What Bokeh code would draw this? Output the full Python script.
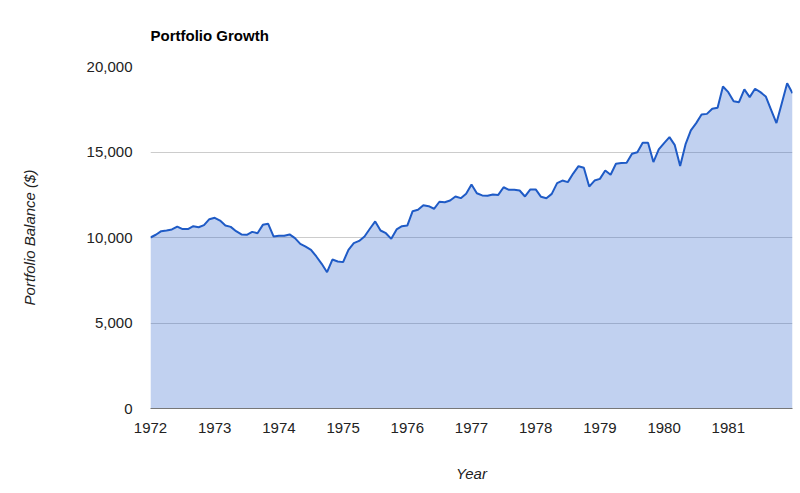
from bokeh.plotting import figure
from bokeh.models import Range1d, FixedTicker, NumeralTickFormatter, PrintfTickFormatter, ColumnDataSource
from bokeh.embed import file_html
from bokeh.resources import INLINE

start_year = 1972
year_ticks = [1972, 1973, 1974, 1975, 1976, 1977, 1978, 1979, 1980, 1981]
balance_ticks = [0, 5000, 10000, 15000, 20000]

# Monthly portfolio balance, Jan 1972 .. Jan 1982
balance = [
    10000, 10160, 10370, 10410, 10470, 10640, 10490, 10490, 10660, 10600,
    10720, 11070, 11150, 10990, 10700, 10620, 10370, 10180, 10160, 10330,
    10250, 10740, 10800, 10060, 10100, 10100, 10180, 9960, 9630, 9470,
    9280, 8890, 8460, 7970, 8710, 8600, 8560, 9280, 9670, 9800,
    10060, 10510, 10940, 10410, 10250, 9920, 10470, 10660, 10700, 11540,
    11620, 11890, 11830, 11680, 12090, 12060, 12160, 12400, 12300, 12560,
    13100, 12590, 12460, 12440, 12510, 12490, 12940, 12790, 12790, 12750,
    12400, 12810, 12810, 12380, 12300, 12550, 13180, 13330, 13240, 13740,
    14170, 14080, 12980, 13330, 13430, 13920, 13670, 14310, 14350, 14370,
    14900, 14990, 15540, 15540, 14410, 15150, 15520, 15870, 15400, 14180,
    15440, 16260, 16690, 17190, 17230, 17530, 17590, 18830, 18500, 17970,
    17910, 18660, 18210, 18700, 18500, 18250, 17470, 16690, 17850, 19020,
    18440,
]
months = [start_year + i / 12 for i in range(len(balance))]

src = ColumnDataSource(data=dict(x=months, y=balance, base=[0] * len(balance)))

p = figure(width=800, height=493, output_backend="svg", toolbar_location=None,
           x_range=Range1d(1972, 1982), y_range=Range1d(0, 20000),
           min_border_left=150, min_border_right=8, min_border_top=66, min_border_bottom=85)
p.outline_line_color = None
p.background_fill_color = "white"

p.varea(x="x", y1="base", y2="y", source=src, fill_color="#3366cc", fill_alpha=0.3)
p.line(x="x", y="y", source=src, line_color="#1f5bc6", line_width=2)

FONT = "Liberation Sans"
p.title.text = "Portfolio Growth"
p.title.text_font = FONT
p.title.text_font_size = "15px"
p.title.text_font_style = "bold"
p.title.text_color = "#000000"
p.title.align = "left"
p.title.standoff = 46

p.xgrid.grid_line_color = None
p.ygrid.grid_line_color = "#cccccc"
p.ygrid.grid_line_width = 1

xa = p.xaxis[0]
xa.ticker = FixedTicker(ticks=year_ticks)
xa.formatter = PrintfTickFormatter(format="%d")
xa.major_tick_line_color = None
xa.minor_tick_line_color = None
xa.axis_line_color = "#777777"
xa.major_label_text_font = FONT
xa.major_label_text_font_size = "15px"
xa.major_label_text_color = "#222222"
xa.major_label_standoff = 8
xa.axis_label = "Year"
xa.axis_label_text_font = FONT
xa.axis_label_text_font_size = "15px"
xa.axis_label_text_font_style = "italic"
xa.axis_label_text_color = "#222222"
xa.axis_label_standoff = 29

ya = p.yaxis[0]
ya.ticker = FixedTicker(ticks=balance_ticks)
ya.formatter = NumeralTickFormatter(format="0,0")
ya.major_tick_line_color = None
ya.minor_tick_line_color = None
ya.axis_line_color = None
ya.major_label_text_font = FONT
ya.major_label_text_font_size = "15px"
ya.major_label_text_color = "#222222"
ya.major_label_standoff = 12
ya.axis_label = "Portfolio Balance ($)"
ya.axis_label_text_font = FONT
ya.axis_label_text_font_size = "15px"
ya.axis_label_text_font_style = "italic"
ya.axis_label_text_color = "#222222"
ya.axis_label_standoff = 46

open("out.html", "w").write(file_html(p, INLINE))
